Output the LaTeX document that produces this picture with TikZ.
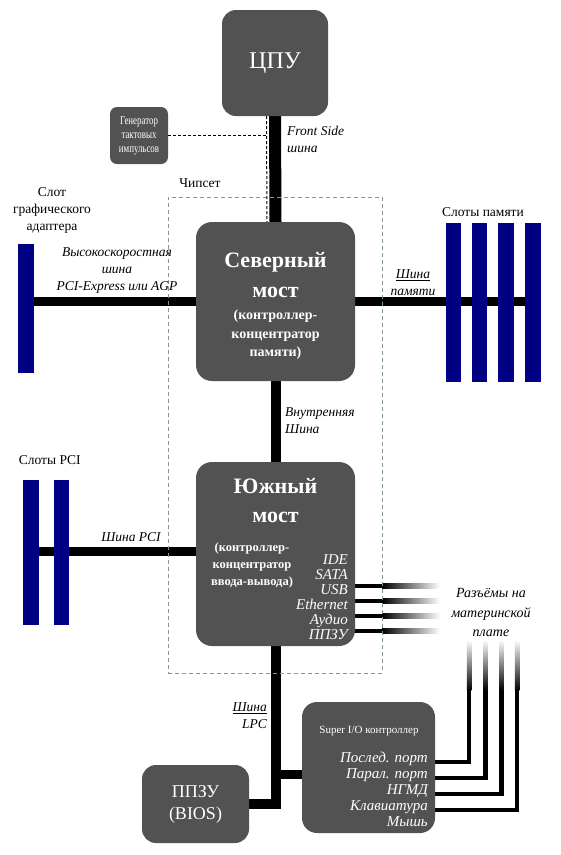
\documentclass[tikz,border=0pt]{standalone}
\usepackage{fontspec}
\usepackage{graphicx}
\setmainfont{Liberation Serif}
\usetikzlibrary{calc, backgrounds}
\definecolor{boxgray}{RGB}{82,82,82}
\definecolor{slotblue}{RGB}{0,0,130}
\definecolor{chipgreen}{RGB}{130,155,130}
\newcommand{\narrow}[1]{\scalebox{0.74}[1]{#1}}
\newcommand{\fsz}[2]{\fontsize{#1}{#2}\selectfont}
\tikzset{%
    blk/.style={rectangle, rounded corners=14pt, fill=boxgray, text=white, inner sep=0pt, align=center},
    slot/.style={rectangle, fill=slotblue, inner sep=0pt, minimum width=15.5pt},
    bus/.style={line width=10pt},
    hbus/.style={line width=9pt},
    port/.style={line width=4.5pt},
    clkline/.style={line width=1pt, dash pattern=on 3pt off 2pt},
    txt/.style={inner sep=0pt, align=center, font=\fsz{13.5}{17}},
    itxt/.style={inner sep=0pt, align=center, font=\fsz{13.5}{17}\itshape},
    wtxt/.style={inner sep=0pt, align=center, text=white},
    plbl/.style={inner sep=0pt, anchor=east, text=white, text height=8pt, text depth=0pt, font=\fsz{15}{15}\itshape},
}

\begin{document}
\begin{tikzpicture}[x=1pt, y=-1pt]
    \useasboundingbox (0,0) rectangle (561,855);
    % blocks
    \node[blk, minimum width=106pt, minimum height=106pt, font=\fsz{24}{28}] (cpu) at (275,63) {ЦПУ};
    \node[blk, rounded corners=7pt, minimum width=58pt, minimum height=57pt, font=\fsz{12}{14}] (clk) at (139,135.5) {\narrow{Генератор}\\\narrow{тактовых}\\\narrow{импульсов}};
    \node[blk, rounded corners=16pt, minimum width=159pt, minimum height=159pt] (nb) at (275.5,301.5) {};
    \node[blk, rounded corners=16pt, minimum width=159pt, minimum height=184pt] (sb) at (275.5,554) {};
    \node[blk, rounded corners=15pt, minimum width=133pt, minimum height=131pt] (sio) at (368.5,767.5) {};
    \node[blk, minimum width=107pt, minimum height=78pt, font=\fsz{18}{22}] (bios) at (195.5,804) {ППЗУ\\(BIOS)};
    \node[draw=chipgreen, line width=1pt, dash pattern=on 4pt off 3pt, minimum width=214pt, minimum height=476pt, inner sep=0pt] (chipset) at (275,435) {};

    % slots
    \node[slot, minimum height=129pt] (gslot) at (26,308.5) {};
    \foreach \x [count=\i] in {453.5,479.5,506.2,533.2}
        \node[slot, minimum height=159pt] (mem\i) at (\x,302) {};
    \node[slot, minimum height=145pt] (pci1) at (31.2,552.5) {};
    \node[slot, minimum height=145pt] (pci2) at (61.7,552.5) {};

    % bridge texts
    \node[wtxt, font=\fsz{22}{30}\bfseries] (nbt) at (275.5,275.5) {Северный\\мост};
    \node[wtxt, font=\fsz{14}{18.5}\bfseries] (nbs) at (275.5,335) {(контроллер-\\концентратор\\памяти)};
    \node[wtxt, font=\fsz{22}{29}\bfseries] (sbt) at (275.5,500.5) {Южный\\мост};
    \node[wtxt, font=\fsz{12.5}{17}\bfseries] (sbs) at (252,565.5) {(контроллер-\\концентратор\\ввода-вывода)};
    \node[wtxt, font=\fsz{11}{13}] (siot) at (369,731) {Super I/O контроллер};
    \foreach \n/\t/\y in {ide/IDE/560, sata/SATA/575, usb/USB/590, eth/Ethernet/605, aud/Аудио/620, rom/ППЗУ/635}
        \node[plbl] (\n) at (348,\y) {\t};
    \foreach \n/\t/\y in {ser/Послед. порт/758, par/Парал. порт/774, fdd/НГМД/790, kbd/Клавиатура/806, mouse/Мышь/822}
        \node[plbl] (\n) at (428,\y) {\t};

    % labels
    \node[itxt, anchor=west, align=left] (fsbl) at (287,139.5) {Front Side\\шина};
    \node[txt] (chipl) at (200,183) {Чипсет};
    \node[txt] (gslotl) at (52,210) {Слот\\графического\\адаптера};
    \node[itxt] (agpl) at (117,270.5) {Высокоскоростная\\шина\\PCI-Express или AGP};
    \node[txt] (meml) at (483,212) {Слоты памяти};
    \node[itxt] (membl) at (413,282.5) {\underline{Шина}\\памяти};
    \node[itxt, anchor=west, align=left] (intl) at (285,420.5) {Внутренняя\\Шина};
    \node[txt] (pcil) at (49.7,460.5) {Слоты PCI};
    \node[itxt] (pcibl) at (131,537) {Шина PCI};
    \node[itxt, anchor=east, align=right] (lpcl) at (267,716) {\underline{Шина}\\LPC};
    \node[itxt, font=\fsz{14}{19.5}\itshape] (conl) at (491,612.5) {Разъёмы на\\материнской\\плате};

    % clock
    \coordinate (cfv) at ($(cpu.south)+(-8.5,0)$);
    \draw[clkline] (cfv) -- ($(nb.north)+(-8.5,0)$);
    \draw[clkline] (clk.east) -- (clk.east -| cfv);

    % buses
    \begin{scope}[on background layer]
        \fill[white] (0,0) rectangle (561,855);
        \draw[bus, line width=12pt] (cpu.south) -- (nb.north);
        \draw[bus] (nb.south) -- (sb.north);
        \draw[hbus] (nb.west) -- (nb.west -| gslot.east);
        \draw[hbus] (nb.east) -- (nb.east -| mem4.west);
        \coordinate (pcib) at ($(sb.west)+(0,-2.5)$);
        \draw[hbus] (pcib) -- (pcib -| pci1.east);
        \draw[bus] (sb.south) |- (bios.east);
        \coordinate (lpcs) at ($(sio.west)+(0,6.5)$);
        \draw[hbus] (lpcs) -- (sb.south |- lpcs);
        \foreach \n in {usb,eth,aud,rom}{
            \coordinate (p) at (\n.north east);
            \draw[port] (p) -- ++(34,0);
            \shade[left color=black, right color=white] ($(p)+(34,-2.25)$) rectangle ($(p)+(92,2.25)$);
        }
        \foreach \n/\x in {ser/469,par/485.5,fdd/501.5,kbd/517}{
            \draw[port] (\n.base east) -| (\x,690);
            \shade[top color=white, bottom color=black] (\x-2.25,640) rectangle (\x+2.25,690.5);
        }
    \end{scope}
\end{tikzpicture}
\end{document}
